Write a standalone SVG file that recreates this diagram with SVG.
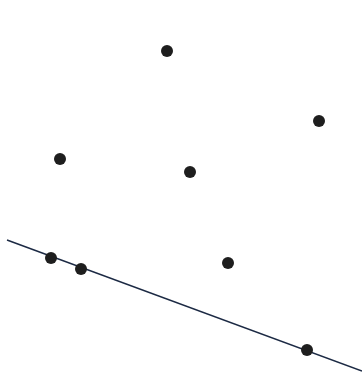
<svg xmlns="http://www.w3.org/2000/svg" width="362" height="385" viewBox="0 0 362 385">
<style>
.pt{fill:#1e1e1e}
.ln{stroke:#1c2a44;stroke-width:1.5;fill:none}
</style>
<rect width="362" height="385" fill="#ffffff"/>
<g id="connectors">
<line class="ln" x1="7" y1="240" x2="362" y2="371"/>
</g>
<g id="p1"><circle class="pt" cx="167" cy="51" r="6"/></g>
<g id="p2"><circle class="pt" cx="319" cy="121" r="6"/></g>
<g id="p3"><circle class="pt" cx="60" cy="159" r="6"/></g>
<g id="p4"><circle class="pt" cx="190" cy="172" r="6"/></g>
<g id="p5"><circle class="pt" cx="228" cy="263" r="6"/></g>
<g id="p6"><circle class="pt" cx="51" cy="258" r="6"/></g>
<g id="p7"><circle class="pt" cx="81" cy="269" r="6"/></g>
<g id="p8"><circle class="pt" cx="307" cy="350" r="6"/></g>
</svg>
